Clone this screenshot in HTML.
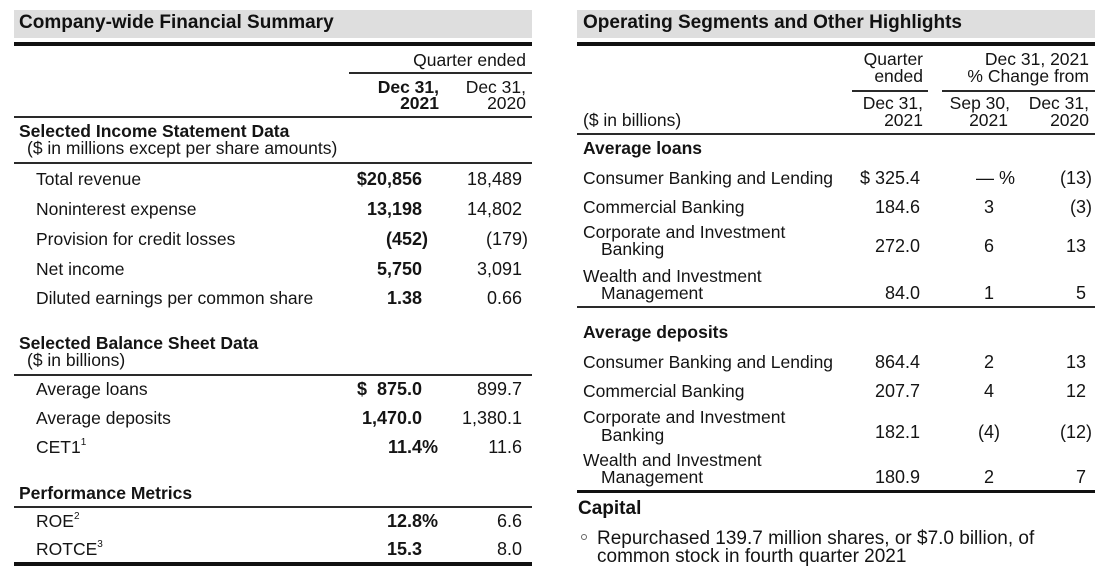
<!DOCTYPE html>
<html>
<head>
<meta charset="utf-8">
<style>
  html, body { margin:0; padding:0; }
  body { width:1111px; height:576px; position:relative; overflow:hidden; background:#ffffff;
         font-family:"Liberation Sans", Arial, sans-serif; color:#141414; }
  .t { position:absolute; font-size:17.5px; line-height:18px; white-space:nowrap; }
  .n { position:absolute; font-size:18px; line-height:18px; white-space:nowrap; text-align:right; }
  .b { font-weight:bold; }
  .ttl { position:absolute; font-size:19px; line-height:20px; font-weight:bold; white-space:nowrap; color:#111; }
  .band { position:absolute; background:#dedede; }
  .rule { position:absolute; background:#2a2a2a; }
  .thick { position:absolute; background:#111; }
  .h { display:inline-block; width:0; overflow:visible; text-align:left; }
  .sup { font-size:10px; position:relative; top:-8px; }
  .bul { position:absolute; font-size:19px; line-height:17px; white-space:nowrap; }
</style>
</head>
<body>

<!-- ================= LEFT PANEL ================= -->
<div class="band" style="left:14px;top:10px;width:518px;height:28px;"></div>
<div class="ttl" style="left:19px;top:13px;">Company-wide Financial Summary</div>
<div class="thick" style="left:14px;top:42px;width:518px;height:4px;"></div>

<div class="t" style="right:585px;top:51px;">Quarter ended</div>
<div class="rule" style="left:349px;top:72px;width:183px;height:2px;"></div>
<div class="t b" style="right:672px;top:78px;text-align:right;">Dec 31,</div>
<div class="t b" style="right:672px;top:94px;text-align:right;">2021</div>
<div class="t" style="right:585px;top:78px;text-align:right;">Dec 31,</div>
<div class="t" style="right:585px;top:94px;text-align:right;">2020</div>
<div class="rule" style="left:14px;top:116px;width:518px;height:2px;"></div>

<div class="t b" style="left:19px;top:122px;">Selected Income Statement Data</div>
<div class="t" style="left:27px;top:139px;">($ in millions except per share amounts)</div>
<div class="rule" style="left:14px;top:162px;width:518px;height:2px;"></div>

<div class="t" style="left:36px;top:170px;">Total revenue</div>
<div class="n b" style="right:689px;top:170px;">$20,856</div>
<div class="n" style="right:589px;top:170px;">18,489</div>

<div class="t" style="left:36px;top:200px;">Noninterest expense</div>
<div class="n b" style="right:689px;top:200px;">13,198</div>
<div class="n" style="right:589px;top:200px;">14,802</div>

<div class="t" style="left:36px;top:230px;">Provision for credit losses</div>
<div class="n b" style="right:689px;top:230px;">(452<span class="h">)</span></div>
<div class="n" style="right:589px;top:230px;">(179<span class="h">)</span></div>

<div class="t" style="left:36px;top:260px;">Net income</div>
<div class="n b" style="right:689px;top:260px;">5,750</div>
<div class="n" style="right:589px;top:260px;">3,091</div>

<div class="t" style="left:36px;top:289px;">Diluted earnings per common share</div>
<div class="n b" style="right:689px;top:289px;">1.38</div>
<div class="n" style="right:589px;top:289px;">0.66</div>

<div class="t b" style="left:19px;top:334px;">Selected Balance Sheet Data</div>
<div class="t" style="left:27px;top:351px;">($ in billions)</div>
<div class="rule" style="left:14px;top:374px;width:518px;height:2px;"></div>

<div class="t" style="left:36px;top:380px;">Average loans</div>
<div class="n b" style="right:689px;top:380px;">$&nbsp; 875.0</div>
<div class="n" style="right:589px;top:380px;">899.7</div>

<div class="t" style="left:36px;top:409px;">Average deposits</div>
<div class="n b" style="right:689px;top:409px;">1,470.0</div>
<div class="n" style="right:589px;top:409px;">1,380.1</div>

<div class="t" style="left:36px;top:438px;">CET1<span class="sup">1</span></div>
<div class="n b" style="right:689px;top:438px;">11.4<span class="h">%</span></div>
<div class="n" style="right:589px;top:438px;">11.6</div>

<div class="t b" style="left:19px;top:484px;">Performance Metrics</div>
<div class="rule" style="left:14px;top:506px;width:518px;height:2px;"></div>

<div class="t" style="left:36px;top:512px;">ROE<span class="sup">2</span></div>
<div class="n b" style="right:689px;top:512px;">12.8<span class="h">%</span></div>
<div class="n" style="right:589px;top:512px;">6.6</div>

<div class="t" style="left:36px;top:540px;">ROTCE<span class="sup">3</span></div>
<div class="n b" style="right:689px;top:540px;">15.3</div>
<div class="n" style="right:589px;top:540px;">8.0</div>

<div class="thick" style="left:14px;top:562px;width:518px;height:4px;"></div>

<!-- ================= RIGHT PANEL ================= -->
<div class="band" style="left:577px;top:10px;width:518px;height:28px;"></div>
<div class="ttl" style="left:583px;top:13px;">Operating Segments and Other Highlights</div>
<div class="thick" style="left:577px;top:42px;width:518px;height:4px;"></div>

<div class="t" style="right:188px;top:50px;text-align:right;">Quarter</div>
<div class="t" style="right:188px;top:67px;text-align:right;">ended</div>
<div class="t" style="right:22px;top:50px;text-align:right;">Dec 31, 2021</div>
<div class="t" style="right:22px;top:67px;text-align:right;">% Change from</div>
<div class="rule" style="left:852px;top:90px;width:76px;height:2px;"></div>
<div class="rule" style="left:942px;top:90px;width:153px;height:2px;"></div>

<div class="t" style="right:188px;top:94px;text-align:right;">Dec 31,</div>
<div class="t" style="right:188px;top:111px;text-align:right;">2021</div>
<div class="t" style="right:101px;top:94px;text-align:right;">Sep 30,</div>
<div class="t" style="right:103px;top:111px;text-align:right;">2021</div>
<div class="t" style="right:22px;top:94px;text-align:right;">Dec 31,</div>
<div class="t" style="right:22px;top:111px;text-align:right;">2020</div>
<div class="t" style="left:583px;top:111px;">($ in billions)</div>
<div class="rule" style="left:577px;top:133px;width:518px;height:2px;"></div>

<div class="t b" style="left:583px;top:139px;">Average loans</div>

<div class="t" style="left:583px;top:169px;">Consumer Banking and Lending</div>
<div class="n" style="right:191px;top:169px;">$ 325.4</div>
<div class="n" style="right:117px;top:169px;">&mdash;<span class="h">&nbsp;%</span></div>
<div class="n" style="right:25px;top:169px;">(13<span class="h">)</span></div>

<div class="t" style="left:583px;top:198px;">Commercial Banking</div>
<div class="n" style="right:191px;top:198px;">184.6</div>
<div class="n" style="right:117px;top:198px;">3</div>
<div class="n" style="right:25px;top:198px;">(3<span class="h">)</span></div>

<div class="t" style="left:583px;top:223px;">Corporate and Investment</div>
<div class="t" style="left:601px;top:240px;">Banking</div>
<div class="n" style="right:191px;top:237px;">272.0</div>
<div class="n" style="right:117px;top:237px;">6</div>
<div class="n" style="right:25px;top:237px;">13</div>

<div class="t" style="left:583px;top:267px;">Wealth and Investment</div>
<div class="t" style="left:601px;top:284px;">Management</div>
<div class="n" style="right:191px;top:284px;">84.0</div>
<div class="n" style="right:117px;top:284px;">1</div>
<div class="n" style="right:25px;top:284px;">5</div>

<div class="rule" style="left:577px;top:306px;width:518px;height:2px;"></div>

<div class="t b" style="left:583px;top:323px;">Average deposits</div>

<div class="t" style="left:583px;top:353px;">Consumer Banking and Lending</div>
<div class="n" style="right:191px;top:353px;">864.4</div>
<div class="n" style="right:117px;top:353px;">2</div>
<div class="n" style="right:25px;top:353px;">13</div>

<div class="t" style="left:583px;top:382px;">Commercial Banking</div>
<div class="n" style="right:191px;top:382px;">207.7</div>
<div class="n" style="right:117px;top:382px;">4</div>
<div class="n" style="right:25px;top:382px;">12</div>

<div class="t" style="left:583px;top:408px;">Corporate and Investment</div>
<div class="t" style="left:601px;top:426px;">Banking</div>
<div class="n" style="right:191px;top:423px;">182.1</div>
<div class="n" style="right:117px;top:423px;">(4<span class="h">)</span></div>
<div class="n" style="right:25px;top:423px;">(12<span class="h">)</span></div>

<div class="t" style="left:583px;top:451px;">Wealth and Investment</div>
<div class="t" style="left:601px;top:468px;">Management</div>
<div class="n" style="right:191px;top:468px;">180.9</div>
<div class="n" style="right:117px;top:468px;">2</div>
<div class="n" style="right:25px;top:468px;">7</div>

<div class="thick" style="left:577px;top:490px;width:518px;height:3px;"></div>

<div class="ttl" style="left:578px;top:499px;">Capital</div>
<div style="position:absolute;left:581px;top:534px;width:4px;height:4px;border:1px solid #666;border-radius:50%;"></div>
<div class="bul" style="left:597px;top:530px;">Repurchased 139.7 million shares, or $7.0 billion, of</div>
<div class="bul" style="left:597px;top:548px;">common stock in fourth quarter 2021</div>

</body>
</html>
